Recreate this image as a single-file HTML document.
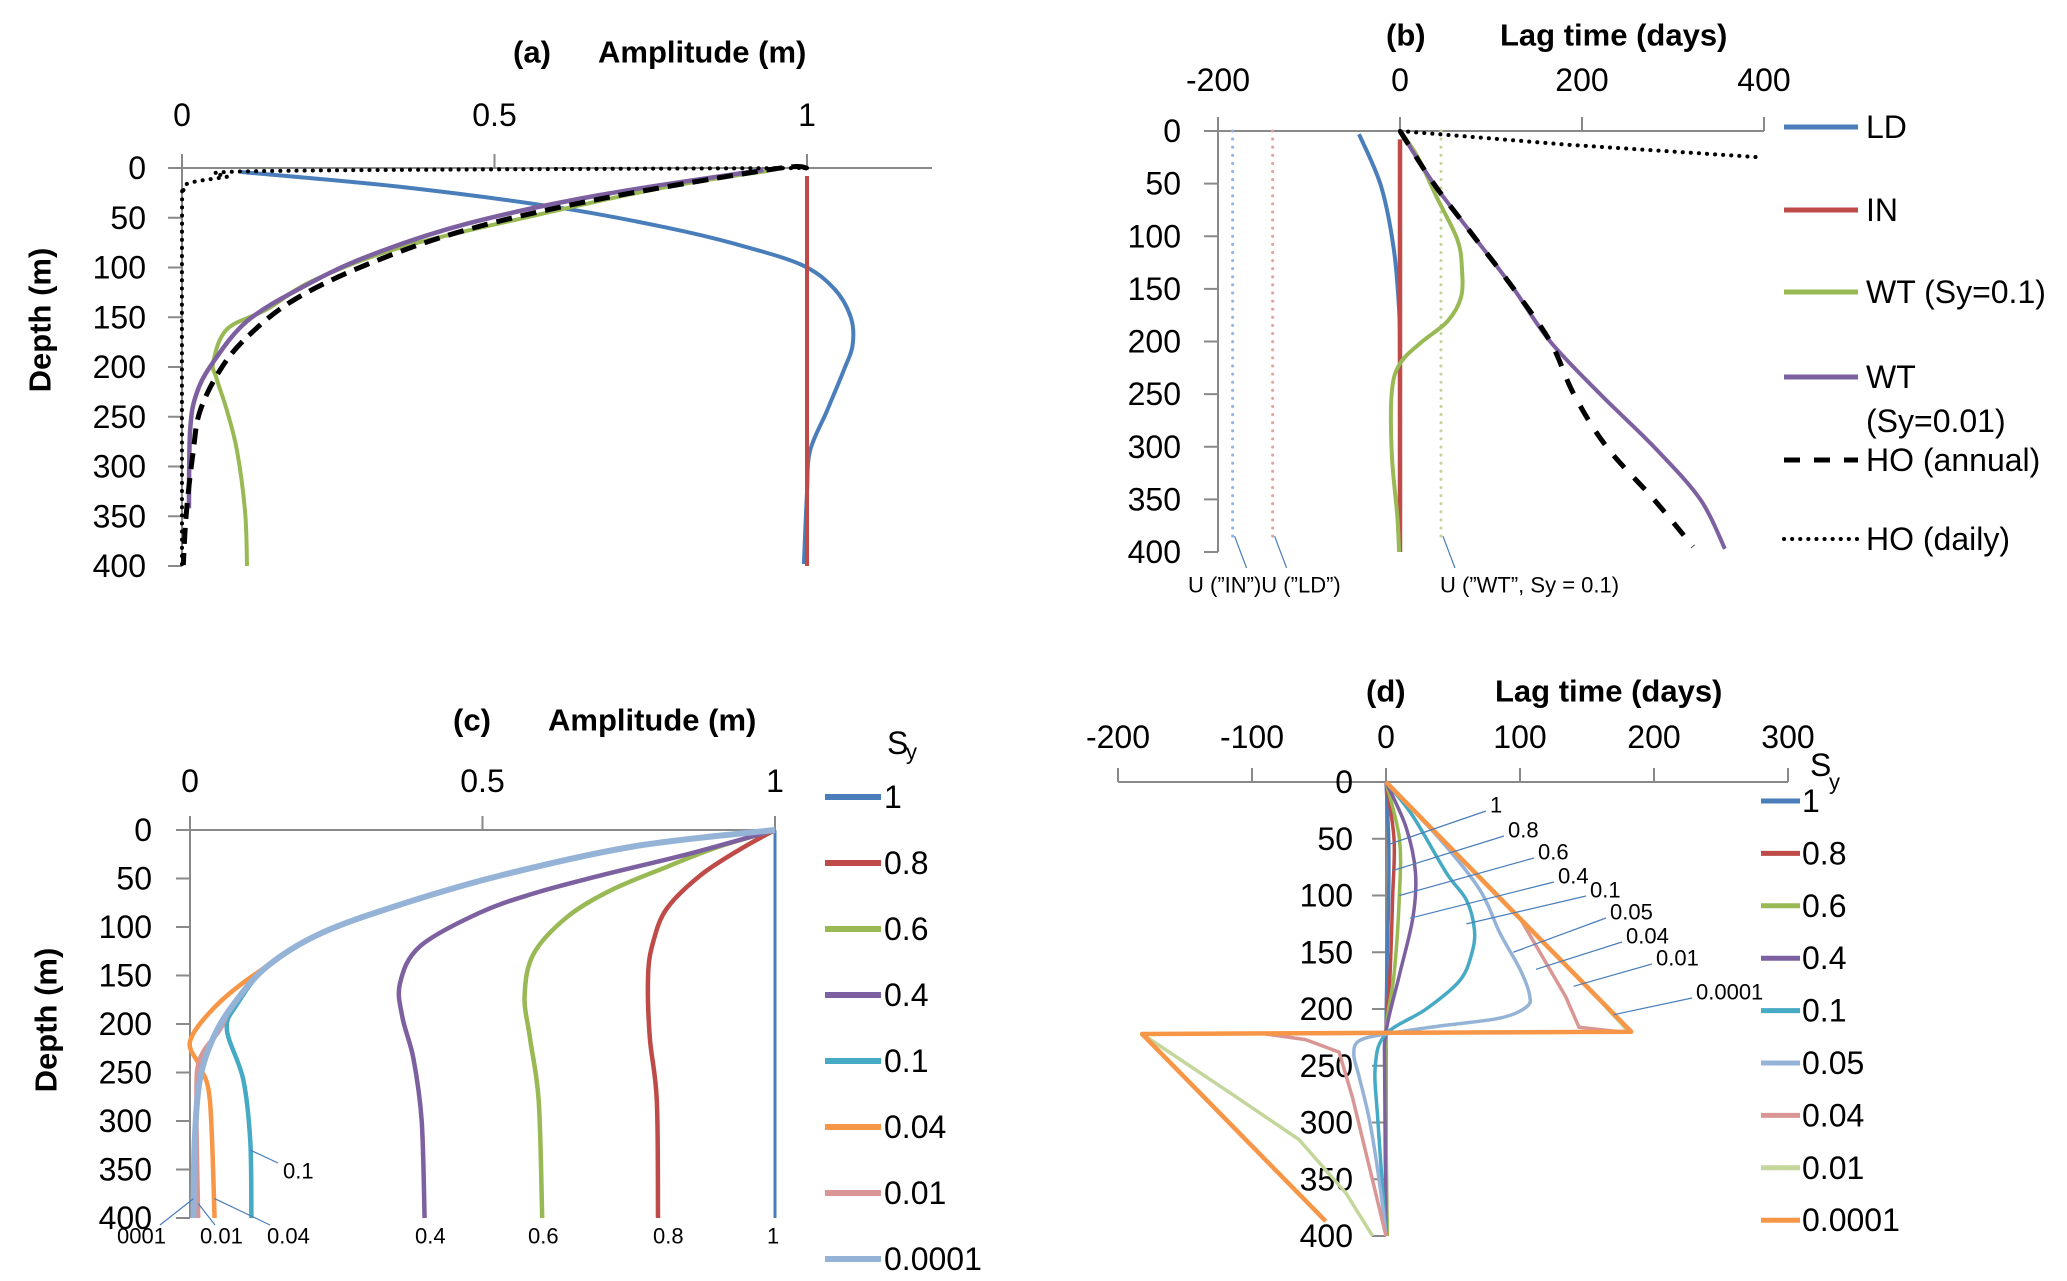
<!DOCTYPE html>
<html><head><meta charset="utf-8"><style>
html,body{margin:0;padding:0;background:#fff}
svg{display:block}
text{font-family:"Liberation Sans",sans-serif;fill:#000}
.t{font-size:32px}
.b{font-size:31px;font-weight:bold}
.s{font-size:22px}
</style></head><body>
<svg id="fig" width="2067" height="1281" viewBox="0 0 2067 1281" xmlns="http://www.w3.org/2000/svg">
<g id="g"></g>
</svg>
<script>
// ---------- Panel (a): amplitude ----------
const aTicksX = [0, 0.5, 1];
const aTickLabelsX = ["0", "0.5", "1"];
const depthTicks = [0, 50, 100, 150, 200, 250, 300, 350, 400];
const aLD_x = [0.095, 0.35, 0.605, 0.776, 0.883, 0.99, 1.043, 1.07, 1.073, 1.059, 1.032, 1.005, 1.0, 0.995];
const aLD_d = [4, 19, 40, 60, 76, 97, 121, 150, 178, 203, 244, 284, 325, 398];
const aIN_x = [1, 1];
const aIN_d = [8, 400];
const aWT1_x = [0.936, 0.776, 0.562, 0.349, 0.21, 0.136, 0.072, 0.05, 0.055, 0.072, 0.088, 0.101, 0.104];
const aWT1_d = [3, 19, 48, 80, 113, 142, 162, 195, 211, 244, 284, 346, 400];
const aWT01_x = [0.93, 0.67, 0.456, 0.296, 0.189, 0.104, 0.05, 0.023, 0.013, 0.011];
const aWT01_d = [2, 27, 56, 89, 121, 154, 195, 227, 264, 342];
const aHOa_x = [1.0, 0.947, 0.67, 0.456, 0.296, 0.178, 0.104, 0.061, 0.029, 0.018, 0.007, 0.002];
const aHOa_d = [0, 1, 31, 62, 97, 133, 170, 203, 244, 284, 346, 399];
const aHOd_x = [1, 0.136, 0.07, 0.013, 0.002, 0, 0];
const aHOd_d = [0, 3, 9, 15, 23, 60, 400];

// ---------- Panel (b): lag time ----------
const bTicksX = [-200, 0, 200, 400];
const bTickLabelsX = ["-200", "0", "200", "400"];
const bLD_x = [-45, -21, -7, -1, 0];
const bLD_d = [3, 52, 111, 170, 217];
const bIN_x = [0, 0];
const bIN_d = [8, 400];
const bWT1_x = [0, 19, 41, 63, 68, 67, 52, 23, 0, -9, -9, -3, -1];
const bWT1_d = [0, 24, 64, 103, 130, 158, 181, 201, 221, 248, 307, 366, 400];
const bWT01_x = [0, 37, 81, 125, 165, 220, 279, 330, 357];
const bWT01_d = [0, 50, 100, 150, 200, 250, 300, 350, 397];
const bHOa_x = [0, 37, 81, 125, 165, 191, 227, 279, 322];
const bHOa_d = [0, 50, 100, 150, 200, 250, 300, 350, 395];
const bHOd_x = [0, 184, 396];
const bHOd_d = [0, 13, 25];
const bU_vals = [-184, -140, 45];
const bU_cols = ["#8eb4e3", "#e6a0a0", "#c3d69b"];

// ---------- Panel (c): amplitude vs Sy ----------
const cSyLabels = ["1", "0.8", "0.6", "0.4", "0.1", "0.04", "0.01", "0.0001"];
const c1_x = [1, 1], c1_d = [0, 400];
const c08_x = [1, 0.94, 0.872, 0.815, 0.792, 0.783, 0.786, 0.798, 0.8];
const c08_d = [0, 20, 47, 81, 115, 150, 214, 279, 400];
const c06_x = [1, 0.9, 0.815, 0.72, 0.644, 0.587, 0.572, 0.581, 0.596, 0.602];
const c06_d = [0, 18, 38, 62, 90, 128, 171, 214, 279, 400];
const c04_x = [1, 0.85, 0.701, 0.59, 0.496, 0.393, 0.359, 0.363, 0.382, 0.396, 0.401];
const c04_d = [0, 25, 47, 65, 85, 120, 158, 193, 236, 300, 400];
const c01_x = [1, 0.758, 0.53, 0.359, 0.222, 0.131, 0.08, 0.063, 0.091, 0.103, 0.105];
const c01_d = [0, 17, 47, 77, 107, 141, 180, 206, 257, 321, 400];
const c004_x = [1, 0.758, 0.53, 0.359, 0.222, 0.108, 0.04, 0.0, 0.017, 0.034, 0.042];
const c004_d = [0, 17, 47, 77, 107, 150, 184, 218, 244, 279, 400];
const c001_x = [1, 0.758, 0.53, 0.359, 0.222, 0.131, 0.074, 0.051, 0.017, 0.011, 0.014];
const c001_d = [0, 17, 47, 77, 107, 141, 180, 206, 236, 279, 400];
const c00001_x = [1, 0.758, 0.53, 0.359, 0.222, 0.131, 0.074, 0.04, 0.017, 0.008, 0.006];
const c00001_d = [0, 17, 47, 77, 107, 141, 180, 214, 257, 321, 400];

// ---------- Panel (d): lag vs Sy ----------
const dTicksX = [-200, -100, 0, 100, 200, 300];
const dTickLabelsX = ["-200", "-100", "0", "100", "200", "300"];
const dSyLabels = ["1", "0.8", "0.6", "0.4", "0.1", "0.05", "0.04", "0.01", "0.0001"];
const d1_x = [0, 2, 2, 1, 0, 0, 0], d1_d = [0, 50, 100, 150, 220, 300, 400];
const d08_x = [0, 6, 5, 3, 0, 0, 0], d08_d = [0, 50, 100, 170, 220, 300, 400];
const d06_x = [0, 10, 10, 6, 0, 0, 1], d06_d = [0, 50, 100, 170, 220, 300, 400];
const d04_x = [0, 15, 22, 20, 10, 0, -1, 0], d04_d = [0, 40, 80, 120, 170, 220, 260, 400];
const d01_x = [0, 20, 45, 60, 66, 64, 55, 30, 0, -8, -6, 0];
const d01_d = [0, 30, 80, 104, 130, 151, 175, 200, 222, 250, 300, 400];
const d005_x = [0, 40, 70, 85, 100, 107, 105, 85, 40, 0, -20, -24, -20, -12, -4, 0];
const d005_d = [0, 50, 95, 133, 165, 187, 198, 208, 215, 222, 228, 240, 260, 300, 360, 400];
const d004_x = [0, 50, 100, 134, 144, 174, -90, -60, -35, -25, -10, 0];
const d004_d = [0, 60, 120, 189, 216, 220, 222, 227, 238, 278, 351, 400];
const d001_x = [0, 80, 160, 181, -182, -115, -65, -30, -10];
const d001_d = [0, 97, 193, 220, 222, 275, 315, 362, 400];
const d00001_x = [0, 183, -182, -45];
const d00001_d = [0, 220, 222, 387];
const dLeadLag = [2, 5, 10, 18, 60, 95, 112, 140, 170];
const dLeadDepth = [55, 78, 100, 120, 125, 150, 165, 180, 205];

const NS = "http://www.w3.org/2000/svg";
const G = document.getElementById("g");
function mk(tag, attrs, parent) {
  const e = document.createElementNS(NS, tag);
  for (const k in attrs) e.setAttribute(k, attrs[k]);
  (parent || G).appendChild(e);
  return e;
}
function lin(d0, d1, r0, r1) { return v => r0 + (v - d0) / (d1 - d0) * (r1 - r0); }
function smoothPath(pts) {
  let s = "M" + pts[0][0].toFixed(1) + "," + pts[0][1].toFixed(1);
  for (let i = 0; i < pts.length - 1; i++) {
    const p0 = pts[Math.max(0, i - 1)], p1 = pts[i], p2 = pts[i + 1], p3 = pts[Math.min(pts.length - 1, i + 2)];
    const c1x = p1[0] + (p2[0] - p0[0]) / 6, c1y = p1[1] + (p2[1] - p0[1]) / 6;
    const c2x = p2[0] - (p3[0] - p1[0]) / 6, c2y = p2[1] - (p3[1] - p1[1]) / 6;
    s += " C" + c1x.toFixed(1) + "," + c1y.toFixed(1) + " " + c2x.toFixed(1) + "," + c2y.toFixed(1) + " " + p2[0].toFixed(1) + "," + p2[1].toFixed(1);
  }
  return s;
}
function series(sx, sy, xs, ds, color, w, dash, name, smooth) {
  const pts = xs.map((v, i) => [sx(v), sy(ds[i])]);
  const d = smooth === false ? "M" + pts.map(p => p[0].toFixed(1) + "," + p[1].toFixed(1)).join(" L") : smoothPath(pts);
  const p = mk("path", {d: d, fill: "none", stroke: color, "stroke-width": w, "stroke-linejoin": "round", "stroke-linecap": dash === "dot" ? "round" : "butt"});
  if (dash === "dot") p.setAttribute("stroke-dasharray", "0.1 8");
  else if (dash) p.setAttribute("stroke-dasharray", dash);
  
  
  return p;
}
function txt(x, y, s, cls, anchor, name) {
  const t = mk("text", {x: x, y: y, class: cls, "text-anchor": anchor || "start", "dominant-baseline": "central"});
  t.textContent = s;
  
  
  return t;
}
function ln(x1, y1, x2, y2, col, w, name) {
  const l = mk("line", {x1: x1, y1: y1, x2: x2, y2: y2, stroke: col, "stroke-width": w});
  
  
  return l;
}
function axes(sx, sy, ticksX, labelsX, xAxisFrom, xAxisTo, yAxisAt, labY, ylabRight, prefix) {
  const AX = "#898989";
  ln(sx(xAxisFrom), sy(0), sx(xAxisTo), sy(0), AX, 2, prefix + "-x-axis");
  ticksX.forEach((v, i) => {
    ln(sx(v), sy(0), sx(v), sy(0) - 14, AX, 2, prefix + "-x-tick");
    txt(sx(v), labY, labelsX[i], "t", "middle", prefix + "-x-tick-label");
  });
  ln(sx(yAxisAt), sy(0), sx(yAxisAt), sy(400), AX, 2, prefix + "-y-axis");
  depthTicks.forEach(v => {
    ln(sx(yAxisAt) - 14, sy(v), sx(yAxisAt), sy(v), AX, 2, prefix + "-y-tick");
    txt(ylabRight, sy(v), String(v), "t", "end", prefix + "-y-tick-label");
  });
}

// ===== Panel (a) =====
{
  const sx = lin(0, 1, 182, 807), sy = lin(0, 400, 168, 566);
  axes(sx, sy, aTicksX, aTickLabelsX, -0.02, 1.2, 0, 115, 146, "panel-a");
  txt(513, 52, "(a)", "b", "start", "panel-a-label");
  txt(598, 52, "Amplitude (m)", "b", "start", "panel-a-x-title");
  const yt = txt(40, 320, "Depth (m)", "b", "middle", "panel-a-y-title");
  yt.setAttribute("transform", "rotate(-90 40 320)");
  series(sx, sy, aLD_x, aLD_d, "#4a7ebb", 4, null, "a-series-ld");
  series(sx, sy, aIN_x, aIN_d, "#be4b48", 4, null, "a-series-in", false);
  series(sx, sy, aWT1_x, aWT1_d, "#98b954", 4, null, "a-series-wt-0-1");
  series(sx, sy, aWT01_x, aWT01_d, "#7d60a0", 4.5, null, "a-series-wt-0-01");
  series(sx, sy, aHOa_x, aHOa_d, "#000", 5, "16 9", "a-series-ho-annual");
  series(sx, sy, aHOd_x, aHOd_d, "#000", 4, "dot", "a-series-ho-daily");
}

// ===== Panel (b) =====
{
  const sx = lin(-200, 400, 1218, 1764), sy = lin(0, 400, 131, 552);
  axes(sx, sy, bTicksX, bTickLabelsX, -200, 400, -200, 80, 1181, "panel-b");
  txt(1386, 35, "(b)", "b", "start", "panel-b-label");
  txt(1500, 35, "Lag time (days)", "b", "start", "panel-b-x-title");
  bU_vals.forEach((v, i) => {
    series(sx, sy, [v, v], [0, 385], bU_cols[i], 3, "dot", "b-uncertainty-line");
    ln(sx(v) + 2, sy(385), sx(v) + 14, sy(400) + 16, "#4a7ebb", 1.2, "b-uncertainty-leader");
  });
  series(sx, sy, bLD_x, bLD_d, "#4a7ebb", 4, null, "b-series-ld");
  series(sx, sy, bIN_x, bIN_d, "#be4b48", 4.5, null, "b-series-in", false);
  series(sx, sy, bWT1_x, bWT1_d, "#98b954", 4, null, "b-series-wt-0-1");
  series(sx, sy, bWT01_x, bWT01_d, "#7d60a0", 4, null, "b-series-wt-0-01");
  series(sx, sy, bHOa_x, bHOa_d, "#000", 5, "16 14", "b-series-ho-annual");
  series(sx, sy, bHOd_x, bHOd_d, "#000", 4, "dot", "b-series-ho-daily", false);
  txt(1188, 585, "U (\u201dIN\u201d)U (\u201dLD\u201d)", "s", "start", "b-u-label-in-ld");
  txt(1440, 585, "U (\u201dWT\u201d, Sy = 0.1)", "s", "start", "b-u-label-wt");
  const leg = [["LD", "#4a7ebb", null, 127], ["IN", "#be4b48", null, 210], ["WT (Sy=0.1)", "#98b954", null, 292], ["WT", "#7d60a0", null, 377], ["HO (annual)", "#000", "16 14", 460], ["HO (daily)", "#000", "dot", 539]];
  leg.forEach(r => {
    const l = ln(1784, r[3], 1858, r[3], r[1], 5, "b-legend-swatch");
    if (r[2] === "dot") { l.setAttribute("stroke-dasharray", "0.1 8"); l.setAttribute("stroke-linecap", "round"); l.setAttribute("stroke-width", 4); }
    else if (r[2]) l.setAttribute("stroke-dasharray", r[2]);
    txt(1866, r[3], r[0], "t", "start", "b-legend-entry");
  });
  txt(1866, 421, "(Sy=0.01)", "t", "start", "b-legend-entry");
}

// ===== Panel (c) =====
{
  const sx = lin(0, 1, 190, 775), sy = lin(0, 400, 830, 1218);
  axes(sx, sy, aTicksX, aTickLabelsX, -0.02, 1, 0, 781, 152, "panel-c");
  txt(453, 720, "(c)", "b", "start", "panel-c-label");
  txt(548, 720, "Amplitude (m)", "b", "start", "panel-c-x-title");
  const yt = txt(46, 1020, "Depth (m)", "b", "middle", "panel-c-y-title");
  yt.setAttribute("transform", "rotate(-90 46 1020)");
  const cols = ["#4a7ebb", "#be4b48", "#98b954", "#7d60a0", "#46aac5", "#f79646", "#d99694", "#95b3d7"];
  const xs = [c1_x, c08_x, c06_x, c04_x, c01_x, c004_x, c001_x, c00001_x];
  const ds = [c1_d, c08_d, c06_d, c04_d, c01_d, c004_d, c001_d, c00001_d];
  xs.forEach((x, i) => series(sx, sy, x, ds[i], cols[i], i === 0 ? 3 : (i === 7 ? 6 : 4.5), null, "c-series-sy-" + cSyLabels[i], i !== 0));
  txt(887, 743, "S", "t", "start", "c-legend-title");
  txt(906, 752, "y", "s", "start", "c-legend-title-sub");
  cSyLabels.forEach((s, i) => {
    const y = 797 + 66 * i;
    ln(825, y, 881, y, cols[i], 6, "c-legend-swatch");
    txt(884, y, s, "t", "start", "c-legend-entry");
  });
  const bl = [["0001", 117], ["0.01", 200], ["0.04", 267], ["0.4", 415], ["0.6", 528], ["0.8", 653], ["1", 767]];
  bl.forEach(b => txt(b[1], 1236, b[0], "s", "start", "c-value-label"));
  txt(283, 1171, "0.1", "s", "start", "c-value-label");
  ln(278, 1163, sx(0.103), sy(330), "#4a7ebb", 1.2, "c-leader");
  ln(160, 1225, sx(0.006), sy(380), "#4a7ebb", 1.2, "c-leader");
  ln(215, 1225, sx(0.014), sy(385), "#4a7ebb", 1.2, "c-leader");
  ln(270, 1225, sx(0.042), sy(380), "#4a7ebb", 1.2, "c-leader");
}

// ===== Panel (d) =====
{
  const sx = lin(-200, 300, 1118, 1788), sy = lin(0, 400, 782, 1236);
  const AX = "#898989";
  ln(sx(-200), sy(0), sx(300), sy(0), AX, 2, "panel-d-x-axis");
  dTicksX.forEach((v, i) => {
    ln(sx(v), sy(0), sx(v), sy(0) - 14, AX, 2, "panel-d-x-tick");
    txt(sx(v), 737, dTickLabelsX[i], "t", "middle", "panel-d-x-tick-label");
  });
  ln(sx(0), sy(0), sx(0), sy(400), AX, 2, "panel-d-y-axis");
  depthTicks.forEach(v => {
    ln(sx(0) - 14, sy(v), sx(0), sy(v), AX, 2, "panel-d-y-tick");
    txt(1353, sy(v), String(v), "t", "end", "panel-d-y-tick-label");
  });
  txt(1366, 691, "(d)", "b", "start", "panel-d-label");
  txt(1495, 691, "Lag time (days)", "b", "start", "panel-d-x-title");
  const cols = ["#4a7ebb", "#be4b48", "#98b954", "#7d60a0", "#46aac5", "#95b3d7", "#d99694", "#c3d69b", "#f79646"];
  const xs = [d1_x, d08_x, d06_x, d04_x, d01_x, d005_x, d004_x, d001_x, d00001_x];
  const ds = [d1_d, d08_d, d06_d, d04_d, d01_d, d005_d, d004_d, d001_d, d00001_d];
  xs.forEach((x, i) => series(sx, sy, x, ds[i], cols[i], i === 8 ? 4.5 : 3.5, null, "d-series-sy-" + dSyLabels[i], i < 6));
  const lp = [[1490, 805], [1508, 830], [1538, 852], [1558, 876], [1590, 890], [1610, 912], [1626, 936], [1656, 958], [1696, 992]];
  dSyLabels.forEach((s, i) => {
    txt(lp[i][0], lp[i][1], s, "s", "start", "d-value-label");
    ln(lp[i][0] - 4, lp[i][1] + 6, sx(dLeadLag[i]), sy(dLeadDepth[i]), "#4a7ebb", 1.2, "d-leader");
  });
  txt(1810, 765, "S", "t", "start", "d-legend-title");
  txt(1829, 782, "y", "s", "start", "d-legend-title-sub");
  dSyLabels.forEach((s, i) => {
    const y = 801 + 52.4 * i;
    ln(1761, y, 1800, y, cols[i], 5, "d-legend-swatch");
    txt(1802, y, s, "t", "start", "d-legend-entry");
  });
}
</script>
</body></html>
